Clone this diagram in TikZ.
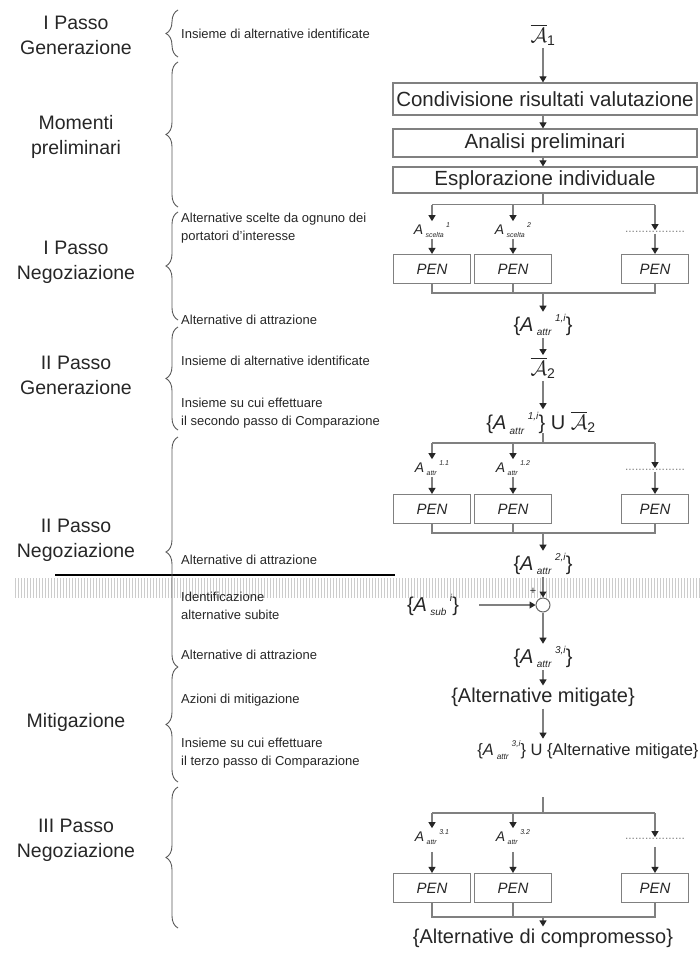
\documentclass[tikz,border=0pt]{standalone}
\usepackage{fontspec}
\setmainfont{Liberation Sans}
\usepackage{amsmath}
\usepackage{tikz}
\usetikzlibrary{shapes, arrows.meta, positioning, decorations.pathreplacing, patterns}

\newcommand{\Aidx}[2]{\textit{A}\,\raisebox{-0.45ex}{\scalebox{0.5}{\textit{#1}}}\,\raisebox{0.95ex}{\scalebox{0.5}{\textit{#2}}}}
\newcommand{\Abar}[1]{$\overline{\mathcal{A}}$\textsubscript{#1}}

\begin{document}
\begin{tikzpicture}[
    % GLOBAL CFG
    x=1pt, y=-1pt,
    text=black!85,
    % Styles
    phase/.style={% For the phase names on the left
        align=center,
        font=\fontsize{19.5}{25}\selectfont,
        },
    note/.style={% For the small notes next to the braces
        anchor=west,
        align=left,
        inner sep=1pt,
        font=\fontsize{13}{17.5}\selectfont,
        },
    stepbox/.style={% For the three big boxes
        rectangle,
        draw=black!50,
        line width=1.2pt,
        minimum width=304pt,
        minimum height=28pt,
        inner sep=0pt,
        font=\fontsize{20.5}{24}\selectfont,
        },
    pen/.style={% For the PEN boxes
        rectangle,
        draw=black!50,
        line width=1.1pt,
        minimum width=77pt,
        minimum height=29pt,
        inner sep=0pt,
        font=\fontsize{15}{18}\selectfont\itshape,
        },
    setlabel/.style={% For the sets in the main column
        inner sep=2pt,
        font=\fontsize{20}{24}\selectfont,
        },
    idx/.style={% For the single alternatives
        inner sep=1pt,
        font=\fontsize{14}{16}\selectfont,
        },
    dotslabel/.style={% For the ... columns
        inner sep=1pt,
        text=black!50,
        font=\fontsize{12}{12}\selectfont,
        },
    sumnode/.style={% The circle
        circle,
        draw=black!60,
        fill=white,
        line width=1pt,
        minimum size=14pt,
        inner sep=0pt,
        },
    flow/.style={% Plain connectors
        draw=black!50,
        line width=1.1pt,
        },
    arr/.style={% Connectors with arrow tip
        flow,
        -{Triangle[width=7pt,length=6pt,color=black!85]},
        },
    sbrace/.style={% Braces on the left
        draw=black!65,
        line width=0.9pt,
        decorate,
        decoration={brace, amplitude=12pt},
        },
    ]

\useasboundingbox (0,0) rectangle (700,953);

% Hatched band and separation line
\fill [pattern=vertical lines, pattern color=black!20] (13,578) rectangle (700,597);
\draw [line width=1.5pt] (55,575) -- (395,575);

% Phase names on the left
\node [phase] (ph1) at (76,35) {I Passo\\Generazione};
\node [phase] (ph2) at (76,137) {Momenti\\preliminari};
\node [phase] (ph3) at (76,262) {I Passo\\Negoziazione};
\node [phase] (ph4) at (76,375) {II Passo\\Generazione};
\node [phase] (ph5) at (76,540) {II Passo\\Negoziazione};
\node [phase] (ph6) at (76,722) {Mitigazione};
\node [phase] (ph7) at (76,840) {III Passo\\Negoziazione};

% Braces
\draw [sbrace] (178,57) -- (178,10);
\draw [sbrace] (178,207) -- (178,62);
\draw [sbrace] (178,320) -- (178,212);
\draw [sbrace] (178,430) -- (178,327);
\draw [sbrace] (178,667) -- (178,437);
\draw [sbrace] (178,782) -- (178,667);
\draw [sbrace] (178,928) -- (178,787);

% Notes
\node [note] (nt1) at (180,34) {Insieme di alternative identificate};
\node [note] (nt2) at (180,228) {Alternative scelte da ognuno dei\\portatori d'interesse};
\node [note] (nt3) at (180,320) {Alternative di attrazione};
\node [note] (nt4) at (180,361) {Insieme di alternative identificate};
\node [note] (nt5) at (180,413) {Insieme su cui effettuare\\il secondo passo di Comparazione};
\node [note] (nt6) at (180,560) {Alternative di attrazione};
\node [note] (nt7) at (180,606) {Identificazione\\alternative subite};
\node [note] (nt8) at (180,655) {Alternative di attrazione};
\node [note] (nt9) at (180,700) {Azioni di mitigazione};
\node [note] (nt10) at (180,753) {Insieme su cui effettuare\\il terzo passo di Comparazione};

% Main column
\node [setlabel] (A1) at (543,35) {\Abar{1}};
\node [stepbox, minimum height=32pt] (box1) at (545,99) {Condivisione risultati valutazione};
\node [stepbox] (box2) at (545,143) {Analisi preliminari};
\node [stepbox, minimum height=26pt] (box3) at (545,180) {Esplorazione individuale};

\draw [arr] (A1) -- (A1 |- box1.north);
\draw [arr] (box1.south -| A1) -- (box2.north -| A1);
\draw [arr] (box2.south -| A1) -- (box3.north -| A1);

% First negotiation
\node [idx] (sc1) at (432,230) {\Aidx{scelta}{1}};
\node [idx] (sc2) at (513,230) {\Aidx{scelta}{2}};
\node [dotslabel] (scn) at (655,232) {..................};
\node [pen] (pen1) at (432,269) {PEN};
\node [pen] (pen2) at (513,269) {PEN};
\node [pen, minimum width=67pt] (pen3) at (655,269) {PEN};

\draw [flow] (box3.south -| A1) -- ++(0,11) coordinate (fk1);
\draw [flow] (fk1 -| sc1) -- (fk1 -| scn);
\foreach \n in {sc1, sc2, scn}
    \draw [arr] (fk1 -| \n) -- (\n.north);
\foreach \n/\p in {sc1/pen1, sc2/pen2, scn/pen3}
    \draw [arr] (\n) -- (\p);

\coordinate (mg1) at (543,293);
\draw [flow] (pen1.south) |- (mg1) -| (pen3.south);
\draw [flow] (pen2.south) -- (pen2.south |- mg1);

\node [setlabel] (at1) at (543,325) {\{\Aidx{attr}{1,i}\}};
\node [setlabel] (A2) at (543,368) {\Abar{2}};
\node [setlabel] (un1) at (541,423) {\{\Aidx{attr}{1,i}\} U \Abar{2}};

\draw [arr] (mg1) -- (at1);
\draw [arr] (at1) -- (A2);
\draw [arr] (A2) -- (un1.north -| A1);

% Second negotiation
\coordinate (fk2) at (543,443);
\draw [flow] (fk2) -- ++(0,-10);
\node [idx] (ta1) at (432,468) {\Aidx{attr}{1.1}};
\node [idx] (ta2) at (513,468) {\Aidx{attr}{1.2}};
\node [dotslabel] (tan) at (655,470) {..................};
\node [pen] (pen4) at (432,509) {PEN};
\node [pen] (pen5) at (513,509) {PEN};
\node [pen, minimum width=67pt] (pen6) at (655,509) {PEN};

\draw [flow] (fk2 -| ta1) -- (fk2 -| tan);
\foreach \n in {ta1, ta2, tan}
    \draw [arr] (fk2 -| \n) -- (\n.north);
\foreach \n/\p in {ta1/pen4, ta2/pen5, tan/pen6}
    \draw [arr] (\n) -- (\p);

\coordinate (mg2) at (543,533);
\draw [flow] (pen4.south) |- (mg2) -| (pen6.south);
\draw [flow] (pen5.south) -- (pen5.south |- mg2);

\node [setlabel] (at2) at (543,564) {\{\Aidx{attr}{2,i}\}};
\draw [arr] (mg2) -- (at2);

% Mitigation
\node [sumnode] (cmp) at (543,605) {};
\node [font=\fontsize{11}{12}\selectfont, inner sep=0pt] (plus) at (533,591) {+};
\node [setlabel] (sub) at (433,605) {\{\Aidx{sub}{i}\}};
\node [setlabel] (at3) at (543,657) {\{\Aidx{attr}{3,i}\}};
\node [setlabel] (mit) at (543,697) {\{Alternative mitigate\}};
\node [setlabel, font=\fontsize{16.5}{20}\selectfont] (un2) at (588,750) {\{\Aidx{attr}{3,i}\} U \{Alternative mitigate\}};

\draw [arr] (at2) -- (cmp);
\draw [arr, shorten <=18pt] (sub) -- (cmp);
\draw [arr] (cmp) -- (at3);
\draw [arr] (at3) -- (mit);
\draw [arr] (mit) -- (un2.north -| A1);

% Third negotiation
\coordinate (fk3) at (543,813);
\draw [flow] (fk3) -- ++(0,-16);
\node [idx] (tb1) at (432,837) {\Aidx{attr}{3.1}};
\node [idx] (tb2) at (513,837) {\Aidx{attr}{3.2}};
\node [dotslabel] (tbn) at (655,839) {..................};
\node [pen] (pen7) at (432,888) {PEN};
\node [pen] (pen8) at (513,888) {PEN};
\node [pen, minimum width=67pt] (pen9) at (655,888) {PEN};

\draw [flow] (fk3 -| tb1) -- (fk3 -| tbn);
\foreach \n in {tb1, tb2, tbn}
    \draw [arr] (fk3 -| \n) -- (\n.north);
\foreach \n/\p in {tb1/pen7, tb2/pen8, tbn/pen9}
    \draw [arr, shorten <=6pt] (\n) -- (\p);

\coordinate (mg3) at (543,917);
\draw [flow] (pen7.south) |- (mg3) -| (pen9.south);
\draw [flow] (pen8.south) -- (pen8.south |- mg3);

\node [setlabel] (fin) at (543,938) {\{Alternative di compromesso\}};
\draw [arr] (mg3) -- (fin);

\end{tikzpicture}
\end{document}
